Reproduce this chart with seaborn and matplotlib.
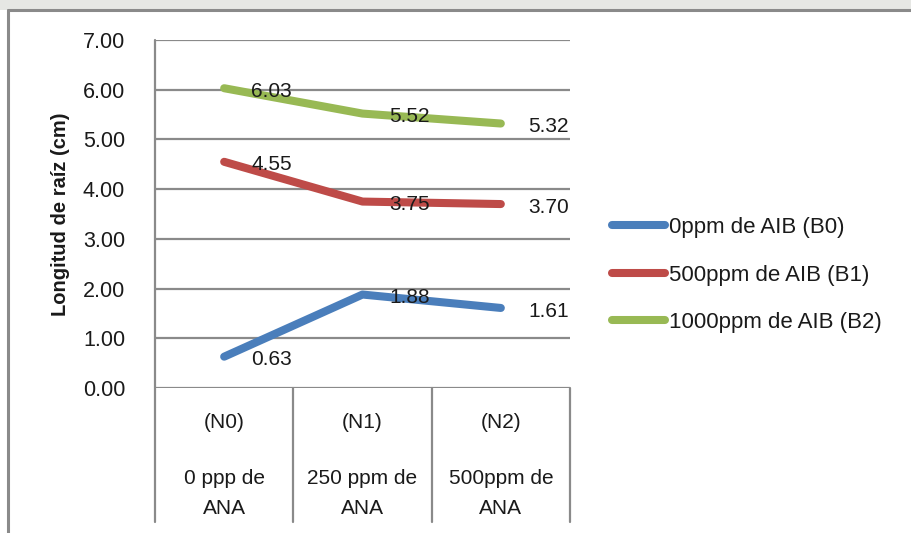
import matplotlib
matplotlib.use("Agg")
import matplotlib.pyplot as plt
from matplotlib.lines import Line2D
from matplotlib.patches import Rectangle
import matplotlib.transforms as mtransforms
import seaborn as sns
import pandas as pd

# Root length (cm) per ANA level, one series per AIB dose
niveles = ["(N0)", "(N1)", "(N2)"]
dosis_ana = ["0 ppp de\nANA", "250 ppm de\nANA", "500ppm de\nANA"]
series = ["0ppm de AIB (B0)", "500ppm de AIB (B1)", "1000ppm de AIB (B2)"]
b0 = [0.63, 1.88, 1.61]
b1 = [4.55, 3.75, 3.70]
b2 = [6.03, 5.52, 5.32]
colores = ["#4A7EBB", "#BE4B48", "#98B954"]
y_ticks = [0, 1, 2, 3, 4, 5, 6, 7]

sns.set_theme(style="white")
plt.rcParams["font.family"] = ["Liberation Sans", "DejaVu Sans"]

rows = []
for name, vals in zip(series, [b0, b1, b2]):
    for i, v in enumerate(vals):
        rows.append({"pos": i, "valor": v, "serie": name})
df = pd.DataFrame(rows)

W, H = 912, 533
fig = plt.figure(figsize=(W / 100, H / 100), dpi=100)
fig.patch.set_facecolor("white")

# outer frame: faint strip on top plus grey border lines
fig.add_artist(Rectangle((0, 1 - 10 / H), 1, 10 / H, transform=fig.transFigure,
                         facecolor="#e6e7e4", edgecolor="none", zorder=0))
fig.add_artist(Line2D([8 / W, 1], [1 - 10 / H, 1 - 10 / H], transform=fig.transFigure,
                      color="#8a8a8a", lw=2.2))
fig.add_artist(Line2D([8 / W, 8 / W], [0, 1 - 10 / H], transform=fig.transFigure,
                      color="#8a8a8a", lw=2.2))

x0, x1, ytop, ybot = 155, 570, 40, 388
ax = fig.add_axes([x0 / W, 1 - ybot / H, (x1 - x0) / W, (ybot - ytop) / H])
ax.set_facecolor("none")

sns.lineplot(data=df, x="pos", y="valor", hue="serie", hue_order=series,
             palette=colores, linewidth=5.8, solid_capstyle="round", ax=ax,
             legend=True, zorder=3)

TXT = "#1a1a1a"
ax.set_xlim(-0.5, 2.5)
ax.set_ylim(0, 7)
ax.set_yticks(y_ticks)
ax.set_yticklabels([f"{t:.2f}" for t in y_ticks], fontsize=15.5, color=TXT)
ax.tick_params(axis="y", length=0, pad=21.5)
ax.set_xticks([])
ax.set_xlabel("")
ax.set_ylabel("Longitud de raíz (cm)", fontsize=14.5, fontweight="bold",
              color=TXT, labelpad=9)
for s in ax.spines.values():
    s.set_visible(False)
ax.yaxis.grid(True, color="#8a8a8a", lw=1.6)
ax.set_axisbelow(True)

# value labels to the right of each point
for vals in [b0, b1, b2]:
    for i, v in enumerate(vals):
        ax.annotate(f"{v:.2f}", (i, v), xytext=(19.5, -2.2), textcoords="offset points",
                    ha="left", va="center", fontsize=15, color=TXT, zorder=4)

# category table below the plot
trans = mtransforms.blended_transform_factory(ax.transData, ax.transAxes)
h = ybot - ytop
y_end = -(522 - ybot) / h
ax.plot([-0.5, -0.5], [1, y_end], transform=trans, color="#8a8a8a", lw=1.6,
        clip_on=False)
for xb in [0.5, 1.5, 2.5]:
    ax.plot([xb, xb], [0, y_end], transform=trans, color="#8a8a8a", lw=1.6,
            clip_on=False)
for i, (n, d) in enumerate(zip(niveles, dosis_ana)):
    ax.text(i, -(422 - ybot) / h, n, transform=trans, ha="center", va="center",
            fontsize=15, color=TXT)
    l1, l2 = d.split("\n")
    ax.text(i, -(478 - ybot) / h, l1, transform=trans, ha="center", va="center",
            fontsize=15, color=TXT)
    ax.text(i, -(508 - ybot) / h, l2, transform=trans, ha="center", va="center",
            fontsize=15, color=TXT)

handles, labels = ax.get_legend_handles_labels()
ax.get_legend().remove()
for hd in handles:
    hd.set_solid_capstyle("round")
    hd.set_linewidth(5.8)
leg = fig.legend(handles, labels, loc="center left",
                 bbox_to_anchor=(612 / W, 1 - 275 / H), frameon=False,
                 fontsize=16, handlelength=2.4, handletextpad=0.15,
                 labelspacing=1.2, borderpad=0, borderaxespad=0)
for t in leg.get_texts():
    t.set_color(TXT)

fig.savefig("out.png", dpi=100)
